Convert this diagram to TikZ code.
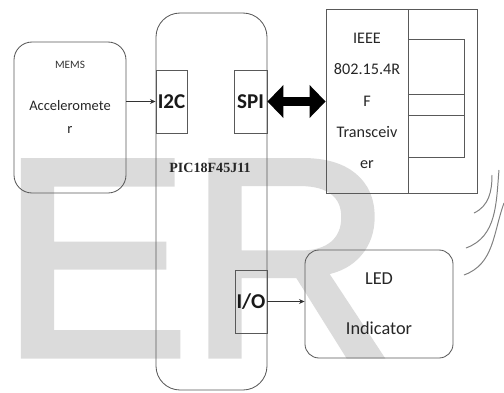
\documentclass[tikz,border=0pt]{standalone}
\usepackage{fontspec}
\setmainfont{Carlito}
\newfontfamily\picfont{Liberation Serif}
\newfontfamily\markfont[RawFeature={embolden=2.5}]{Liberation Sans}
\usetikzlibrary{arrows.meta,positioning}

\begin{document}
\begin{tikzpicture}[
  block/.style={draw=black!65, line width=0.6pt, inner sep=0pt, text=black!85},
  round/.style={block, rounded corners=0.45cm},
  port/.style={block, font=\fontsize{15}{15}\selectfont\bfseries, text=black!90},
  wire/.style={-{Stealth[length=4pt,width=3.5pt]}, draw=black!80, line width=0.6pt},
  bus/.style={{Triangle[length=11.4pt,width=22.8pt]}-{Triangle[length=11.4pt,width=22.8pt]}, line width=7.1pt},
  wave/.style={draw=black!50, line width=0.7pt}
]
  \useasboundingbox (0,0) rectangle (12.6,9.8);

  % watermark
  \node[anchor=base west, inner sep=0pt, text=black!14, font=\markfont\fontsize{200}{200}\selectfont] (mark) at (0.025,0.925) {ER};

  % blocks
  \node[round, minimum width=2.8cm, minimum height=3.775cm] (mems) at (1.75,6.8625) {};
  \node[round, rounded corners=0.6cm, minimum width=2.775cm, minimum height=9.425cm] (pic) at (5.2875,4.7625) {};
  \node[port, minimum width=0.775cm, minimum height=1.575cm] (i2c) at (4.2875,7.2625) {I2C};
  \node[port, minimum width=0.825cm, minimum height=1.575cm] (spi) at (6.2625,7.2625) {SPI};
  \node[port, minimum width=0.8cm, minimum height=1.575cm] (io) at (6.275,2.2625) {I/O};
  \node[block, minimum width=2.05cm, minimum height=4.6cm, align=center, font=\fontsize{11.5}{22.2}\selectfont] (trx) at (9.175,7.275) {IEEE\\802.15.4R\\F\\Transceiv\\er};
  \node[block, anchor=west, minimum width=1.725cm, minimum height=4.6cm] (ant) at (trx.east) {};
  \node[round, rounded corners=0.35cm, minimum width=3.7cm, minimum height=2.7cm, align=center, font=\fontsize{13}{35.6}\selectfont] (led) at (9.475,2.2) {LED\\Indicator};

  % labels
  \node[text=black!80, font=\fontsize{8}{8}\selectfont] (memsname) at (1.75,8.175) {MEMS};
  \node[text=black!85, align=center, font=\fontsize{10.3}{16.4}\selectfont] (memstype) at (1.75,6.8875) {Acceleromete\\r};
  \node[text=black!85, font=\picfont\bfseries\fontsize{10}{10}\selectfont] (picname) at (5.25,5.6) {PIC18F45J11};

  % antenna strips
  \draw[block] (10.2,8.825) -- (11.6,8.825) -- (11.6,5.875) -- (10.2,5.875);
  \draw[block] (10.2,7.45) -- (11.6,7.45);
  \draw[block] (10.2,6.925) -- (11.6,6.925);

  % links
  \draw[wire] (mems.east |- i2c.west) -- (i2c.west);
  \draw[wire] (io.east) -- (io.east -| led.west);
  \draw[bus] (spi.east) -- (spi.east -| trx.west);

  % radio waves
  \draw[wave] (11.85,4.475) to[out=25, in=-90] (12.3,5.425);
  \draw[wave] (11.65,3.6) to[out=20, in=-95] (12.475,5.55);
  \draw[wave] (11.6,2.925) to[out=20, in=-110] (12.6,4.725);
\end{tikzpicture}
\end{document}
